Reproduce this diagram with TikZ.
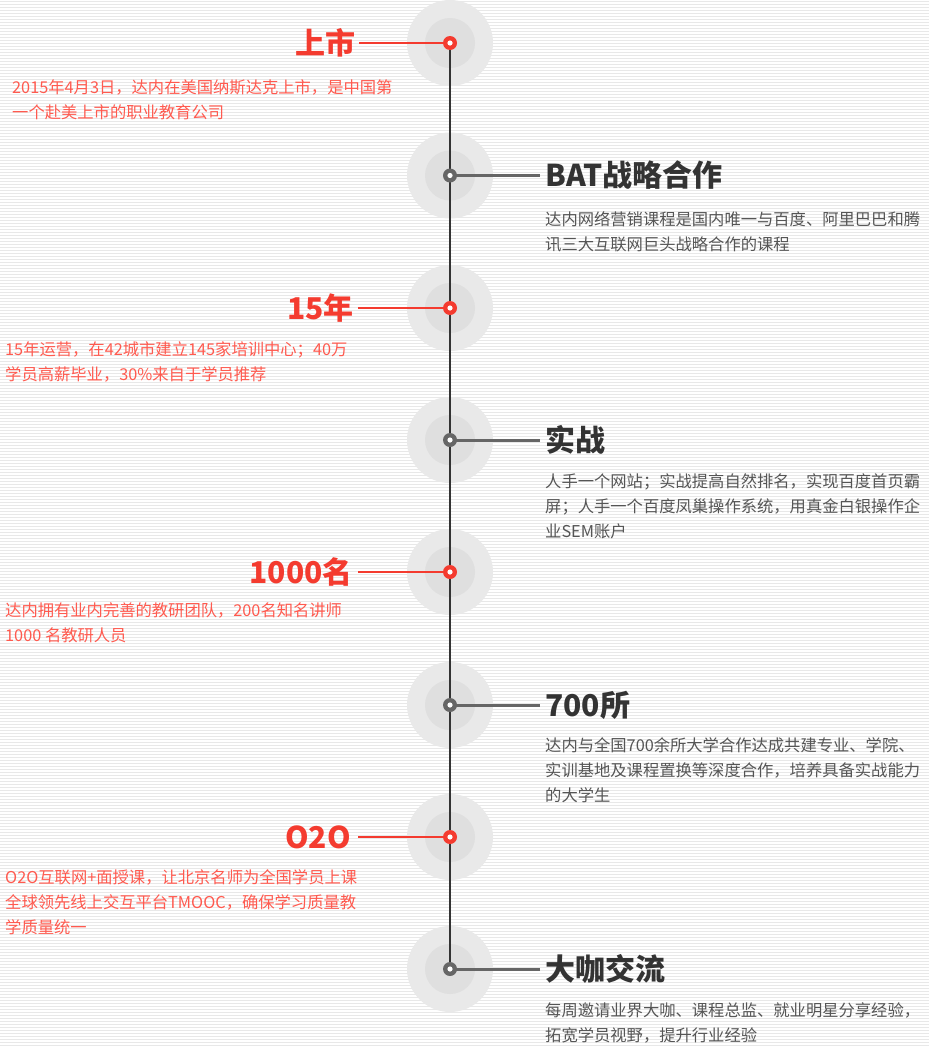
\documentclass[tikz,border=0pt]{standalone}
\usepackage{fontspec}
\setmainfont{Noto Sans CJK SC}
\definecolor{tred}{HTML}{F43B2F}
\definecolor{bred}{HTML}{FF5A4F}
\definecolor{tdark}{HTML}{333333}
\definecolor{bdark}{HTML}{555555}
\definecolor{stripe}{HTML}{E8E8E8}
\definecolor{ringout}{HTML}{E9E9E9}
\definecolor{ringin}{HTML}{DFDFDF}
\definecolor{dgray}{HTML}{666666}
\definecolor{vline}{HTML}{333333}
\begin{document}
\begin{tikzpicture}[x=1pt,y=-1pt,
  ttl/.style={font=\fontsize{30}{30}\selectfont\bfseries, inner sep=0pt},
  lttl/.style={ttl, text=tred, anchor=east},
  rttl/.style={ttl, text=tdark, anchor=west},
  body/.style={font=\fontsize{16.3}{25}\selectfont, align=left, inner sep=0pt, anchor=base west},
  lbody/.style={body, text=bred},
  rbody/.style={body, text=bdark},
  reddot/.style={circle, fill=tred, minimum size=14pt, inner sep=0pt, path picture={\fill[white] (path picture bounding box.center) circle (2.6pt);}},
  graydot/.style={circle, fill=dgray, minimum size=14pt, inner sep=0pt, path picture={\fill[white] (path picture bounding box.center) circle (2.6pt);}},
  lconn/.style={draw=tred, line width=2pt},
  rconn/.style={draw=dgray, line width=3pt},
]
% background with stripes
\fill[white] (0,0) rectangle (929,1047);
\foreach \i in {0,...,348} \fill[stripe] (0,3*\i+1) rectangle (929,3*\i+2);
\useasboundingbox (0,0) rectangle (929,1047);

% centres
\foreach \k/\yy in {1/43,2/175.5,3/308,4/440,5/572,6/705,7/837,8/969}{
  \coordinate (c\k) at (450,\yy);
  \fill[ringout] (c\k) circle (43);
  \fill[ringin] (c\k) circle (25);
}
\draw[vline, line width=2.5pt] (c1) -- (c8);

% item 1 (left)
\node[lttl] (t1) at (356,43) {上市};
\draw[lconn] (t1.east) ++(3,0) coordinate (a1) (a1) -- (c1);
\node[reddot] (d1) at (c1) {};
\node[lbody] (b1) at (12,118) {2015年4月3日，达内在美国纳斯达克上市，是中国第\\一个赴美上市的职业教育公司};

% item 2 (right)
\node[rttl] (t2) at (545,175.5) {BAT战略合作};
\draw[rconn] (c2) -- (540,175.5) coordinate (a2);
\node[graydot] (d2) at (c2) {};
\node[rbody] (b2) at (545,250) {达内网络营销课程是国内唯一与百度、阿里巴巴和腾\\讯三大互联网巨头战略合作的课程};

% item 3 (left)
\node[lttl] (t3) at (354,308) {15年};
\draw[lconn] (t3.east) ++(4,0) coordinate (a3) (a3) -- (c3);
\node[reddot] (d3) at (c3) {};
\node[lbody] (b3) at (5,380) {15年运营，在42城市建立145家培训中心；40万\\学员高薪毕业，30\%来自于学员推荐};

% item 4 (right)
\node[rttl] (t4) at (545,440) {实战};
\draw[rconn] (c4) -- (540,440) coordinate (a4);
\node[graydot] (d4) at (c4) {};
\node[rbody] (b4) at (545,537) {人手一个网站；实战提高自然排名，实现百度首页霸\\屏；人手一个百度凤巢操作系统，用真金白银操作企\\业SEM账户};

% item 5 (left)
\node[lttl] (t5) at (353,572) {1000名};
\draw[lconn] (t5.east) ++(5,0) coordinate (a5) (a5) -- (c5);
\node[reddot] (d5) at (c5) {};
\node[lbody] (b5) at (5,641) {达内拥有业内完善的教研团队，200名知名讲师\\1000 名教研人员};

% item 6 (right)
\node[rttl] (t6) at (545,705) {700所};
\draw[rconn] (c6) -- (540,705) coordinate (a6);
\node[graydot] (d6) at (c6) {};
\node[rbody] (b6) at (545,801) {达内与全国700余所大学合作达成共建专业、学院、\\实训基地及课程置换等深度合作，培养具备实战能力\\的大学生};

% item 7 (left)
\node[lttl] (t7) at (351,837) {O2O};
\draw[lconn] (t7.east) ++(7,0) coordinate (a7) (a7) -- (c7);
\node[reddot] (d7) at (c7) {};
\node[lbody] (b7) at (5,933) {O2O互联网+面授课，让北京名师为全国学员上课\\全球领先线上交互平台TMOOC，确保学习质量教\\学质量统一};

% item 8 (right)
\node[rttl] (t8) at (545,969) {大咖交流};
\draw[rconn] (c8) -- (540,969) coordinate (a8);
\node[graydot] (d8) at (c8) {};
\node[rbody] (b8) at (545,1041) {每周邀请业界大咖、课程总监、就业明星分享经验，\\拓宽学员视野，提升行业经验};
\end{tikzpicture}
\end{document}
